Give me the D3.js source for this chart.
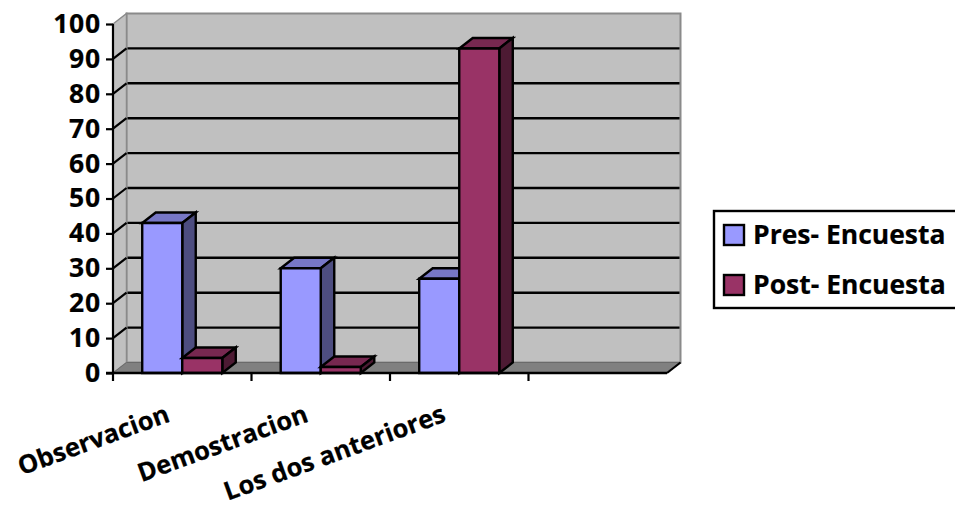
<!DOCTYPE html>
<html><head><meta charset="utf-8">
<script src="https://cdn.jsdelivr.net/npm/d3@7/dist/d3.min.js"></script>
<style>html,body{margin:0;padding:0;background:#fff}svg{display:block}
text{font-family:"Open Sans",Lato,sans-serif;font-weight:700;fill:#000;stroke:#000;stroke-width:0.2px}</style>
</head><body><svg id="c" width="955" height="511"></svg>
<script>
const categories = ["Observacion","Demostracion","Los dos anteriores",""];
const seriesNames = ["Pres- Encuesta","Post- Encuesta"];
const pre = [43,30,27];
const post = [4.3,1.7,93];
const yTicks = [0,10,20,30,40,50,60,70,80,90,100];
const colors = {"Pres- Encuesta":["#9999ff","#7777c6","#4d4d80"],"Post- Encuesta":["#993366","#772850","#4d1a33"]};

const svg = d3.select("#c");
const dx = 13.5, dy = -10.5;
const x = d3.scaleBand().domain(categories).range([113,667]);
const y = d3.scaleLinear().domain([0,100]).range([373,24]);
const xs = d3.scaleBand().domain(seriesNames).range([0,x.bandwidth()]).paddingInner(0).paddingOuter(0.73);
const poly = (pts,fill,stroke,sw) => svg.append("polygon").attr("points",pts.map(p=>p.join(",")).join(" "))
  .attr("fill",fill).attr("stroke",stroke).attr("stroke-width",sw).attr("stroke-linejoin","miter");
const x0=x.range()[0], x1=x.range()[1], y0=y(0), yT=y(100);

poly([[x0+dx,yT+dy],[x1+dx,yT+dy],[x1+dx,y0+dy],[x0+dx,y0+dy]],"#c0c0c0","#8a8a8a",2);
poly([[x0,yT],[x0+dx,yT+dy],[x0+dx,y0+dy],[x0,y0]],"#c0c0c0","#8a8a8a",1.5);
poly([[x0,y0],[x0+dx,y0+dy],[x1+dx,y0+dy],[x1,y0]],"#808080","#6a6a6a",1);

yTicks.filter(t=>t>0&&t<100).forEach(t=>{
  svg.append("line").attr("x1",x0+dx+1).attr("x2",x1+dx-1).attr("y1",y(t)+dy).attr("y2",y(t)+dy).attr("stroke","#000").attr("stroke-width",2.4);
  svg.append("line").attr("x1",x0).attr("x2",x0+dx).attr("y1",y(t)).attr("y2",y(t)+dy).attr("stroke","#000").attr("stroke-width",2.2);
});

function bar(cat,name,v){
  const [cF,cT,cS]=colors[name];
  const l=x(cat)+xs(name), w=xs.bandwidth(), t=y(v), b=y(0);
  poly([[l,t],[l+dx,t+dy],[l+w+dx,t+dy],[l+w,t]],cT,"#000",2.4);
  poly([[l+w,t],[l+w+dx,t+dy],[l+w+dx,b+dy],[l+w,b]],cS,"#000",2.4);
  poly([[l,t],[l+w,t],[l+w,b],[l,b]],cF,"#000",2.4);
}
categories.slice(0,3).forEach((c,i)=>{ bar(c,seriesNames[0],pre[i]); bar(c,seriesNames[1],post[i]); });

const ay = svg.append("g").attr("transform",`translate(${x0},0)`).call(d3.axisLeft(y).tickValues(yTicks).tickSize(7).tickPadding(5));
ay.selectAll("text").attr("font-size",26.5).style("font-family","'Open Sans'").style("font-weight",700).style("letter-spacing","0.8px").attr("fill","#000");
ay.selectAll("line").attr("stroke","#000").attr("stroke-width",2.2);
ay.select(".domain").attr("stroke","#000").attr("stroke-width",2.2).attr("d",`M0,${yT}V${y0}`);

const ax = svg.append("g").attr("transform",`translate(0,${y0})`);
ax.append("path").attr("d",`M${x0-7},0H${x1}`).attr("stroke","#000").attr("stroke-width",2.4).attr("fill","none");
categories.map(c=>x(c)).forEach(px=>{
  ax.append("line").attr("x1",px).attr("x2",px).attr("y1",0).attr("y2",8).attr("stroke","#000").attr("stroke-width",2.2);
});
svg.append("line").attr("x1",x1).attr("x2",x1+dx).attr("y1",y0).attr("y2",y0+dy).attr("stroke","#000").attr("stroke-width",2.2);

categories.slice(0,3).forEach((c,i)=>{
  svg.append("text").text(c).attr("text-anchor","end").attr("font-size",25.5)
    .attr("transform",`translate(${x(c)+x.bandwidth()/2-11 + (i==2?-1:0)},${y0+48}) rotate(-20)`);
});

svg.append("rect").attr("x",714).attr("y",211).attr("width",250).attr("height",97).attr("fill","#fff").attr("stroke","#000").attr("stroke-width",2.4);
seriesNames.forEach((n,i)=>{
  const yy=235+i*50;
  svg.append("rect").attr("x",724).attr("y",yy-10).attr("width",20).attr("height",20).attr("fill",colors[n][0]).attr("stroke","#000").attr("stroke-width",2.4);
  svg.append("text").text(n).attr("x",753).attr("y",yy+9).attr("font-size",26.5);
});
</script></body></html>
